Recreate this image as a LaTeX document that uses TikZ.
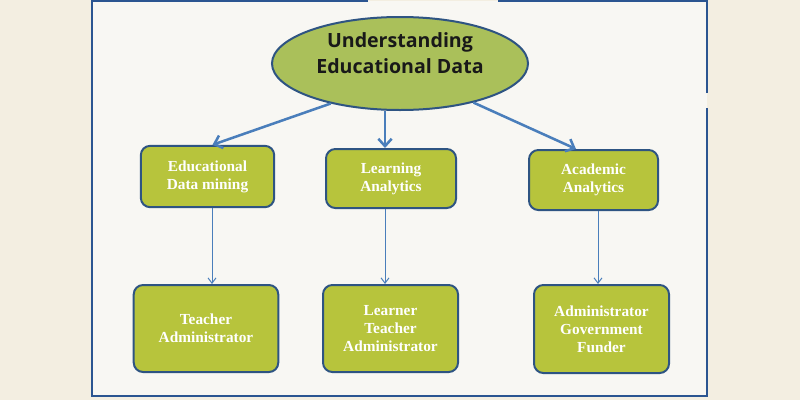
\documentclass[tikz,border=0pt]{standalone}
\usepackage{fontspec}
\setmainfont{Liberation Serif}
\newfontfamily\headfont[Ligatures=CommonOff]{Open Sans}
\usetikzlibrary{shapes.geometric,arrows.meta,calc}
\definecolor{paper}{RGB}{243,238,225}
\definecolor{sheet}{RGB}{248,247,243}
\definecolor{framecol}{RGB}{43,85,145}
\definecolor{edgecol}{RGB}{46,84,130}
\definecolor{boxgreen}{RGB}{183,196,60}
\definecolor{ellgreen}{RGB}{170,192,90}
\definecolor{arrowcol}{RGB}{74,126,187}
\tikzset{
  topic/.style={draw=edgecol,line width=1.5pt,shape=ellipse,fill=ellgreen,inner sep=0pt},
  topictext/.style={align=center,font=\headfont\bfseries\fontsize{14.7}{19.5}\selectfont,text=black!90},
  card/.style={draw=edgecol,line width=1.5pt,shape=rectangle,rounded corners=7pt,fill=boxgreen,
    align=center,text=white,font=\bfseries\fontsize{11.5}{13.5}\selectfont,inner sep=2pt},
  mainarrow/.style={draw=arrowcol,line width=1.9pt,-{Straight Barb[length=5.5pt,width=10pt]}},
  subarrow/.style={draw=arrowcol,line width=0.75pt,-{Straight Barb[length=4pt,width=6pt]}}
}
\begin{document}
\begin{tikzpicture}[x=0.75pt,y=-0.75pt]
   \useasboundingbox (0,0) rectangle (800,400);
   \fill[paper] (0,0) rectangle (800,400);
   \fill[sheet] (92,1) rectangle (707,396);
   \draw[framecol,line width=2pt] (368,1) -- (92,1) -- (92,396) -- (707,396) -- (707,108);
   \draw[framecol,line width=2pt] (707,93) -- (707,1) -- (498,1);

   \path (400,63.5) node[topic,minimum width=192pt,minimum height=69.75pt] (ued) {};
   \path ([yshift=7.5pt]ued.center) node[topictext] (uedt) {Understanding\\Educational Data};

   \path (207.5,176.5) node[card,minimum width=100pt,minimum height=46pt] (edm)
   {Educational\\Data mining};
   \path (391,178.5) node[card,minimum width=97.5pt,minimum height=44.25pt] (la)
   {Learning\\Analytics};
   \path (593.5,180) node[card,minimum width=96.75pt,minimum height=45pt] (aa)
   {Academic\\Analytics};

   \path (206,328.5) node[card,minimum width=108.4pt,minimum height=65.25pt] (ta)
   {Teacher\\Administrator};
   \path (390.5,328.5) node[card,minimum width=101.25pt,minimum height=65.25pt] (lta)
   {Learner\\Teacher\\Administrator};
   \path (601.5,329) node[card,minimum width=101.25pt,minimum height=66pt] (agf)
   {Administrator\\Government\\Funder};

   \draw[mainarrow] (ued.210) -- ($(edm.north)+(5,0)$);
   \draw[mainarrow] ($(ued.south)+(-15,0)$) -- ($(la.north)+(-6,0)$);
   \draw[mainarrow] (ued.332) -- ($(aa.north)+(-17.5,0)$);

   \draw[subarrow] ($(edm.south)+(4.5,0)$) -- ($(ta.north)+(6,0)$);
   \draw[subarrow] ($(la.south)+(-6,0)$) -- ($(lta.north)+(-5.5,0)$);
   \draw[subarrow] ($(aa.south)+(4.5,0)$) -- ($(agf.north)+(-3.5,0)$);
\end{tikzpicture}
\end{document}
